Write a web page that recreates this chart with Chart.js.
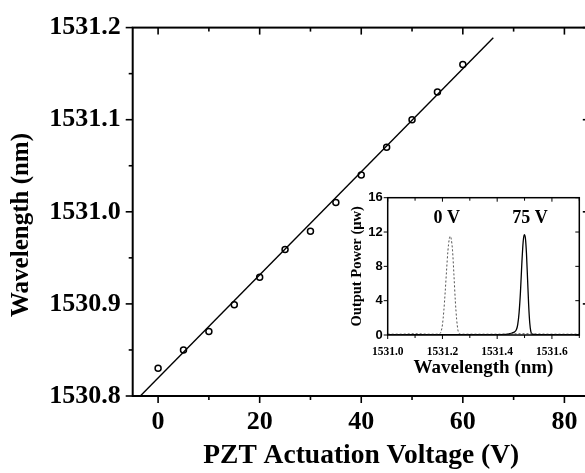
<!DOCTYPE html>
<html>
<head>
<meta charset="utf-8">
<script src="https://cdn.jsdelivr.net/npm/chart.js@4.4.1/dist/chart.umd.min.js"></script>
<style>
  html, body { margin: 0; padding: 0; background: #fff; overflow: hidden; }
  #wrap { position: relative; width: 585px; height: 473px; overflow: hidden; }
  #main { position: absolute; left: 0; top: 0; }
  #inset { position: absolute; left: 330px; top: 180px; }
</style>
</head>
<body>
<div id="wrap">
  <canvas id="main" width="600" height="473"></canvas>
  <canvas id="inset" width="255" height="205"></canvas>
</div>
<script>
// main plot: wavelength vs PZT voltage
const voltage = [0, 5, 10, 15, 20, 25, 30, 35, 40, 45, 50, 55, 60];
const wavelength = [1530.830, 1530.850, 1530.870, 1530.899, 1530.929, 1530.959, 1530.979,
                    1531.010, 1531.040, 1531.070, 1531.100, 1531.130, 1531.160];
const fitVoltage = [-3.5, 66];
const fitWavelength = [1530.800, 1531.189];

const xTicks = [0, 20, 40, 60, 80];
const xMinor = [10, 30, 50, 70];
const yTicks = [1530.8, 1530.9, 1531.0, 1531.1, 1531.2];
const yMinor = [1530.85, 1530.95, 1531.05, 1531.15];

// inset: output spectra at 0 V and 75 V
const spec0Wl = [1531.00, 1531.05, 1531.10, 1531.15, 1531.18, 1531.19, 1531.195, 1531.20, 1531.205,
                 1531.21, 1531.215, 1531.22, 1531.225, 1531.228, 1531.232, 1531.237, 1531.242,
                 1531.247, 1531.252, 1531.257, 1531.262, 1531.27, 1531.30, 1531.40, 1531.50, 1531.60, 1531.70];
const spec0Pw = [0.10, 0.10, 0.15, 0.10, 0.10, 0.15, 0.4, 1.2, 2.8,
                 5.0, 7.5, 9.8, 11.2, 11.5, 11.2, 9.8, 7.0,
                 4.0, 1.8, 0.5, 0.15, 0.10, 0.10, 0.10, 0.15, 0.10, 0.10];
const spec75Wl = [1531.00, 1531.10, 1531.20, 1531.30, 1531.40, 1531.44, 1531.45, 1531.46, 1531.47,
                  1531.475, 1531.48, 1531.485, 1531.49, 1531.495, 1531.499, 1531.503, 1531.507,
                  1531.511, 1531.515, 1531.519, 1531.523, 1531.528, 1531.54, 1531.60, 1531.70];
const spec75Pw = [0.05, 0.05, 0.05, 0.05, 0.05, 0.10, 0.20, 0.30, 0.60,
                  1.2, 2.6, 5.0, 8.3, 10.9, 11.7, 11.3, 9.5,
                  6.5, 3.5, 1.4, 0.4, 0.1, 0.05, 0.05, 0.05];

const insetXTicks = [1531.0, 1531.2, 1531.4, 1531.6];
const insetXMinor = [1531.1, 1531.3, 1531.5, 1531.7];
const insetYTicks = [0, 4, 8, 12, 16];
const insetLabels = [
  { text: "0 V", x: 1531.216, y: 13.6 },
  { text: "75 V", x: 1531.52, y: 13.6 }
];

const SERIF = "'Liberation Serif', 'Times New Roman', serif";
const SANS = "'Liberation Sans', Arial, sans-serif";

function pts(xs, ys) {
  return xs.map((v, i) => ({ x: v, y: ys[i] }));
}

// box frame with outward ticks on bottom/left and inward ticks on top/right
const framePlugin = {
  id: "frame",
  afterDraw(chart, args, o) {
    const { ctx, chartArea: a, scales: { x, y } } = chart;
    ctx.save();
    ctx.strokeStyle = "#000";
    ctx.lineWidth = o.lineWidth;
    ctx.strokeRect(a.left, a.top, a.right - a.left, a.bottom - a.top);
    ctx.lineWidth = o.tickWidth;
    const seg = (x1, y1, x2, y2) => {
      ctx.beginPath(); ctx.moveTo(x1, y1); ctx.lineTo(x2, y2); ctx.stroke();
    };
    const xt = (vals, len) => vals.forEach(v => {
      const p = x.getPixelForValue(v);
      seg(p, a.bottom, p, a.bottom + len);
      seg(p, a.top, p, a.top + len);
    });
    const yt = (vals, len) => vals.forEach(v => {
      const p = y.getPixelForValue(v);
      seg(a.left - len, p, a.left, p);
      seg(a.right - len, p, a.right, p);
    });
    xt(o.xMajor, o.major); xt(o.xMinor, o.minor);
    yt(o.yMajor, o.major); yt(o.yMinor, o.minor);

    if (o.labels) {
      ctx.fillStyle = "#000";
      ctx.font = o.labelFont;
      ctx.textAlign = "center";
      ctx.textBaseline = "middle";
      o.labels.forEach(l => ctx.fillText(l.text, x.getPixelForValue(l.x), y.getPixelForValue(l.y)));
    }
    if (o.yTitle) {
      ctx.fillStyle = "#000";
      ctx.font = o.yTitle.font;
      ctx.textAlign = "center";
      ctx.textBaseline = "middle";
      ctx.translate(o.yTitle.x, o.yTitle.y);
      ctx.rotate(-Math.PI / 2);
      ctx.fillText(o.yTitle.text, 0, 0);
    }
    ctx.restore();
  }
};

new Chart(document.getElementById("main"), {
  type: "scatter",
  data: {
    datasets: [
      {
        type: "line",
        data: pts(fitVoltage, fitWavelength),
        borderColor: "#000",
        borderWidth: 1.4,
        pointRadius: 0,
        fill: false
      },
      {
        data: pts(voltage, wavelength),
        pointStyle: "circle",
        pointRadius: 3,
        pointBorderWidth: 1.5,
        borderColor: "#000",
        backgroundColor: "rgba(255,255,255,0)"
      }
    ]
  },
  options: {
    responsive: false,
    animation: false,
    events: [],
    layout: { padding: { top: 24, right: 10.2, left: 0, bottom: 0 } },
    plugins: {
      legend: { display: false },
      tooltip: { enabled: false },
      frame: {
        lineWidth: 2, tickWidth: 1.6, major: 7, minor: 4,
        xMajor: xTicks, xMinor: xMinor, yMajor: yTicks, yMinor: yMinor,
        yTitle: { text: "Wavelength (nm)", x: 22, y: 225, font: "bold 25px " + SERIF }
      }
    },
    scales: {
      x: {
        type: "linear",
        min: -5, max: 85,
        afterFit: s => { s.height = 77; },
        afterBuildTicks: s => { s.ticks = xTicks.map(v => ({ value: v })); },
        grid: { display: false, drawTicks: false },
        border: { display: false },
        ticks: { color: "#000", padding: 11, maxRotation: 0, font: { family: SERIF, size: 26, weight: "bold" } },
        title: {
          display: true, text: "PZT Actuation Voltage (V)", color: "#000",
          padding: { top: 0, bottom: 1 },
          font: { family: SERIF, size: 27.5, weight: "bold" }
        }
      },
      y: {
        type: "linear",
        min: 1530.8, max: 1531.2,
        afterFit: s => { s.width = 132.7; },
        afterBuildTicks: s => { s.ticks = yTicks.map(v => ({ value: v })); },
        grid: { display: false, drawTicks: false },
        border: { display: false },
        ticks: {
          color: "#000", padding: 12,
          font: { family: SERIF, size: 26, weight: "bold" },
          callback: v => v.toFixed(1)
        }
      }
    }
  },
  plugins: [framePlugin]
});

new Chart(document.getElementById("inset"), {
  type: "line",
  data: {
    datasets: [
      {
        data: pts(spec0Wl, spec0Pw),
        borderColor: "#555",
        borderWidth: 1,
        borderDash: [2, 2],
        pointRadius: 0,
        cubicInterpolationMode: "monotone",
        fill: false
      },
      {
        data: pts(spec75Wl, spec75Pw),
        borderColor: "#000",
        borderWidth: 1.3,
        pointRadius: 0,
        cubicInterpolationMode: "monotone",
        fill: false
      }
    ]
  },
  options: {
    responsive: false,
    animation: false,
    events: [],
    layout: { padding: { top: 17.7, right: 5.7, left: 0, bottom: 0 } },
    plugins: {
      legend: { display: false },
      tooltip: { enabled: false },
      frame: {
        lineWidth: 1.5, tickWidth: 1, major: 4, minor: 3,
        xMajor: insetXTicks, xMinor: insetXMinor, yMajor: insetYTicks, yMinor: [],
        labels: insetLabels, labelFont: "bold 18px " + SERIF
      }
    },
    scales: {
      x: {
        type: "linear",
        min: 1531.0, max: 1531.7,
        afterFit: s => { s.height = 50; },
        afterBuildTicks: s => { s.ticks = insetXTicks.map(v => ({ value: v })); },
        grid: { display: false, drawTicks: false },
        border: { display: false },
        ticks: {
          color: "#000", padding: 10, maxRotation: 0,
          font: { family: SERIF, size: 11.5, weight: "bold" },
          callback: v => v.toFixed(1)
        },
        title: {
          display: true, text: "Wavelength (nm)", color: "#000",
          padding: { top: 0, bottom: 6 },
          font: { family: SERIF, size: 19, weight: "bold" }
        }
      },
      y: {
        type: "linear",
        min: 0, max: 16,
        afterFit: s => { s.width = 57.7; },
        afterBuildTicks: s => { s.ticks = insetYTicks.map(v => ({ value: v })); },
        grid: { display: false, drawTicks: false },
        border: { display: false },
        ticks: { color: "#000", padding: 5, font: { family: SANS, size: 13, weight: "bold" } },
        title: {
          display: true, text: "Output Power (μw)", color: "#000",
          padding: { top: 19, bottom: 0 },
          font: { family: SERIF, size: 14.5, weight: "bold" }
        }
      }
    }
  },
  plugins: [framePlugin]
});
</script>
</body>
</html>
